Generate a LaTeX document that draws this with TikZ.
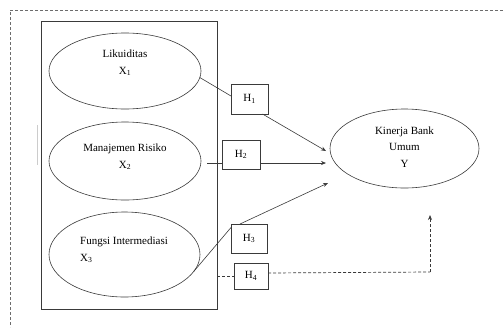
\documentclass[tikz,border=0pt]{standalone}
\usepackage{fontspec}
\setmainfont{Liberation Serif}
\usetikzlibrary{arrows.meta,shapes.geometric}
\definecolor{ink}{HTML}{3A3A3A}
\begin{document}
\begin{tikzpicture}[x=1pt,y=-1pt,
  every node/.style={inner sep=0pt,outer sep=0pt},
  var/.style={draw=ink,line width=0.6pt,ellipse,minimum width=152pt,minimum height=76pt},
  txt/.style={font=\fontsize{11}{16.5}\selectfont,align=center,text=black},
  hbox/.style={draw=ink,line width=0.6pt,rectangle,font=\fontsize{11}{13}\selectfont,text=black},
  conn/.style={draw=ink,line width=0.6pt},
  arr/.style={conn,-{Stealth[length=5pt,width=4pt]}},
  frame/.style={draw=gray!85!black,line width=0.7pt,dash pattern=on 3pt off 2pt}]
\useasboundingbox (0,0) rectangle (503,327);
% outer dashed frame (open to the right and bottom)
\coordinate (ftl) at (10,10);
\coordinate (ftr) at (503,10);
\coordinate (fbl) at (10,327);
\draw[frame] (ftr) -- (ftl) -- (fbl);
% faint mark
\coordinate (m1) at (37,125);
\coordinate (m2) at (37,165);
\draw[gray!40,line width=0.8pt] (m1) -- (m2);
% inner box
\node[draw=ink,line width=0.7pt,rectangle,minimum width=176pt,minimum height=288pt] (inner) at (129,165) {};
% ellipses
\node[var,minimum height=76pt] (e1) at (125,71) {};
\node[txt] (t1) at (125,63) {Likuiditas\\X\textsubscript{1}};
\node[var,minimum height=78pt] (e2) at (125,161) {};
\node[txt] (t2) at (125,157) {Manajemen Risiko\\X\textsubscript{2}};
\node[var,minimum width=151pt,minimum height=85pt] (e3) at (124.5,254.5) {};
\node[txt,align=left] (t3) at (124,250) {Fungsi Intermediasi\\X\textsubscript{3}};
\node[var,minimum width=149pt,minimum height=79pt] (y) at (404.5,148.5) {};
\node[txt] (ty) at (404.5,147) {Kinerja Bank\\Umum\\Y};
% hypothesis boxes
\node[hbox,minimum width=37pt,minimum height=30pt] (h1) at (249.5,99) {H\textsubscript{1}};
\node[hbox,minimum width=38pt,minimum height=29pt] (h2) at (241,154.5) {H\textsubscript{2}};
\node[hbox,minimum width=36pt,minimum height=29pt] (h3) at (249,238.5) {H\textsubscript{3}};
\node[hbox,minimum width=34pt,minimum height=26pt] (h4) at (251,276) {H\textsubscript{4}};
% arrow end points
\coordinate (y1) at (326,151);
\coordinate (y2) at (326,163);
\coordinate (y3) at (328,183);
\coordinate (y4) at (430,215);
\coordinate (c4) at (430,272);
\coordinate (s2) at (207,163);
% H1
\draw[conn] (e1.-5) -- ([yshift=3pt]h1.west);
\draw[arr] ([xshift=13pt]h1.south) -- (y1);
% H2
\draw[conn] (s2) -- (h2.west |- s2);
\draw[arr] (h2.east |- s2) -- (y2);
% H3
\draw[conn] (e3.-14) -- ([yshift=11pt]h3.west);
\draw[arr] ([xshift=-9pt]h3.north) -- (y3);
% H4
\draw[frame,draw=ink] (inner.east |- h4.west) -- (h4.west);
\draw[frame,draw=ink] ([yshift=3pt]h4.east) -- (c4);
\draw[frame,draw=ink,-{Stealth[length=5pt,width=4pt]}] (c4) -- (y4);
\end{tikzpicture}
\end{document}
